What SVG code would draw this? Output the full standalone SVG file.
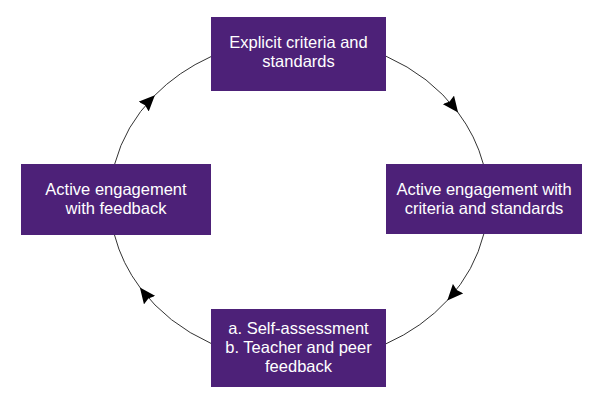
<svg xmlns="http://www.w3.org/2000/svg" width="600" height="411" viewBox="0 0 600 411">
<style>
.box{fill:#4D2178;stroke:none}
.lbl{font-family:"Liberation Sans",Arial,sans-serif;font-size:16.5px;fill:#ffffff;text-anchor:middle}
.conn{fill:none;stroke:#333333;stroke-width:1;marker-mid:url(#arr)}
</style>
<defs>
<marker id="arr" viewBox="0 0 16 14" refX="15" refY="7" markerWidth="16" markerHeight="14" markerUnits="userSpaceOnUse" orient="auto">
<path d="M0,0 L16,7 L0,14 L2,7 Z" fill="#000000"/>
</marker>
</defs>
<rect width="600" height="411" fill="#ffffff"/>
<g id="connectors">
<path class="conn" d="M386,56.2 A189,162 0 0 1 457.5,111.8 A189,162 0 0 1 483.3,164"/>
<path class="conn" d="M483.8,234 A189,162 0 0 1 448,299.7 A189,162 0 0 1 386,343.8"/>
<path class="conn" d="M211,343.4 A189,162 0 0 1 140.5,288.2 A189,162 0 0 1 114.5,235"/>
<path class="conn" d="M114.7,164 A189,162 0 0 1 154.2,95.9 A189,162 0 0 1 211,56.6"/>
</g>
<g id="node-top">
<rect class="box" x="211" y="17" width="175" height="74"/>
<text class="lbl" x="298.5" y="48">Explicit criteria and</text>
<text class="lbl" x="298.5" y="67">standards</text>
</g>
<g id="node-right">
<rect class="box" x="386" y="164" width="196" height="70"/>
<text class="lbl" x="484" y="195">Active engagement with</text>
<text class="lbl" x="484" y="214">criteria and standards</text>
</g>
<g id="node-bottom">
<rect class="box" x="211" y="309" width="175" height="78"/>
<text class="lbl" x="298.5" y="334">a. Self-assessment</text>
<text class="lbl" x="298.5" y="353">b. Teacher and peer</text>
<text class="lbl" x="298.5" y="372">feedback</text>
</g>
<g id="node-left">
<rect class="box" x="21" y="164" width="190" height="71"/>
<text class="lbl" x="116" y="195">Active engagement</text>
<text class="lbl" x="116" y="214">with feedback</text>
</g>
</svg>
